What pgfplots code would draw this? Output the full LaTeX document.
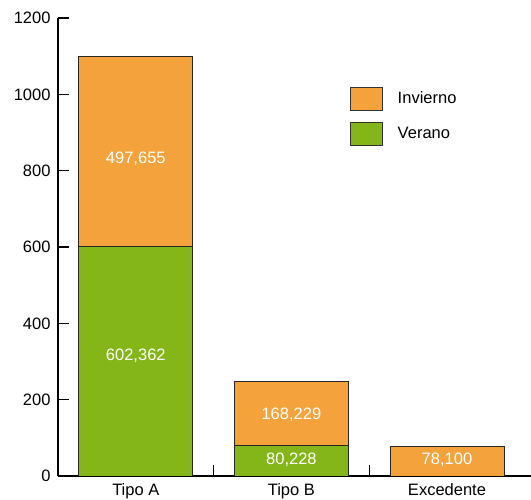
\documentclass[border=0pt]{standalone}
\usepackage{pgfplots}
\pgfplotsset{compat=1.18}
\usepackage{fontspec}
\setmainfont{Liberation Sans}
\definecolor{invierno}{RGB}{244,163,60}
\definecolor{verano}{RGB}{132,182,26}
\begin{document}
\begin{tikzpicture}
\begin{axis}[
  at={(0,0)}, anchor=south west,
  scale only axis, width=473pt, height=458pt,
  font=\fontsize{16.5}{19}\selectfont,
  /pgf/number format/assume math mode=true,
  /pgf/number format/1000 sep={},
  ybar stacked, bar width=0.733,
  xmin=-0.5, xmax=2.54, ymin=0, ymax=1200,
  axis x line=bottom, axis y line=left,
  axis line style={-, line width=1.1pt},
  ytick={0,200,...,1200},
  ytick align=inside, xtick align=inside,
  major tick length=10.5pt,
  minor tick length=11pt,
  ytick style={draw=black, line width=1.2pt},
  xtick style={black, line width=1.1pt},
  yticklabel style={xshift=-4pt},
  xtick={0,1,2}, xticklabels={Tipo A,Tipo B,Excedente},
  minor xtick={0.5,1.5},
  major x tick style={draw=none},
  xticklabel style={yshift=-4pt},
  reverse legend,
  legend style={draw=none, fill=none, at={(rel axis cs:0.617,0.85)}, anchor=north west,
    row sep=11pt, inner sep=0pt, font=\fontsize{16.5}{19}\selectfont},
  legend cell align=left,
  legend image code/.code={\draw[#1, draw=black!80, line width=0.7pt] (0pt,-11.5pt) rectangle (32pt,11.5pt);},
  legend style={nodes={inner xsep=15pt}},
]
\addplot[fill=verano, draw=black!85, line width=0.8pt] coordinates {(0,602.362) (1,80.228) (2,0)};
\addlegendentry{Verano}
\addplot[fill=invierno, draw=black!85, line width=0.8pt] coordinates {(0,497.655) (1,168.229) (2,78.1)};
\addlegendentry{Invierno}
\coordinate (la) at (axis cs:0,830);
\coordinate (lb) at (axis cs:0,315);
\coordinate (lc) at (axis cs:1,160);
\coordinate (ld) at (axis cs:1,42);
\coordinate (le) at (axis cs:2,42);
\end{axis}
\begin{scope}[every node/.style={text=white, font=\fontsize{16.5}{19}\selectfont}]
\node at (la) {497,655};
\node at (lb) {602,362};
\node at (lc) {168,229};
\node at (ld) {80,228};
\node at (le) {78,100};
\end{scope}
\pgfresetboundingbox
\path[use as bounding box] (-58pt,-24pt) rectangle (473pt,476pt);
\end{tikzpicture}
\end{document}
